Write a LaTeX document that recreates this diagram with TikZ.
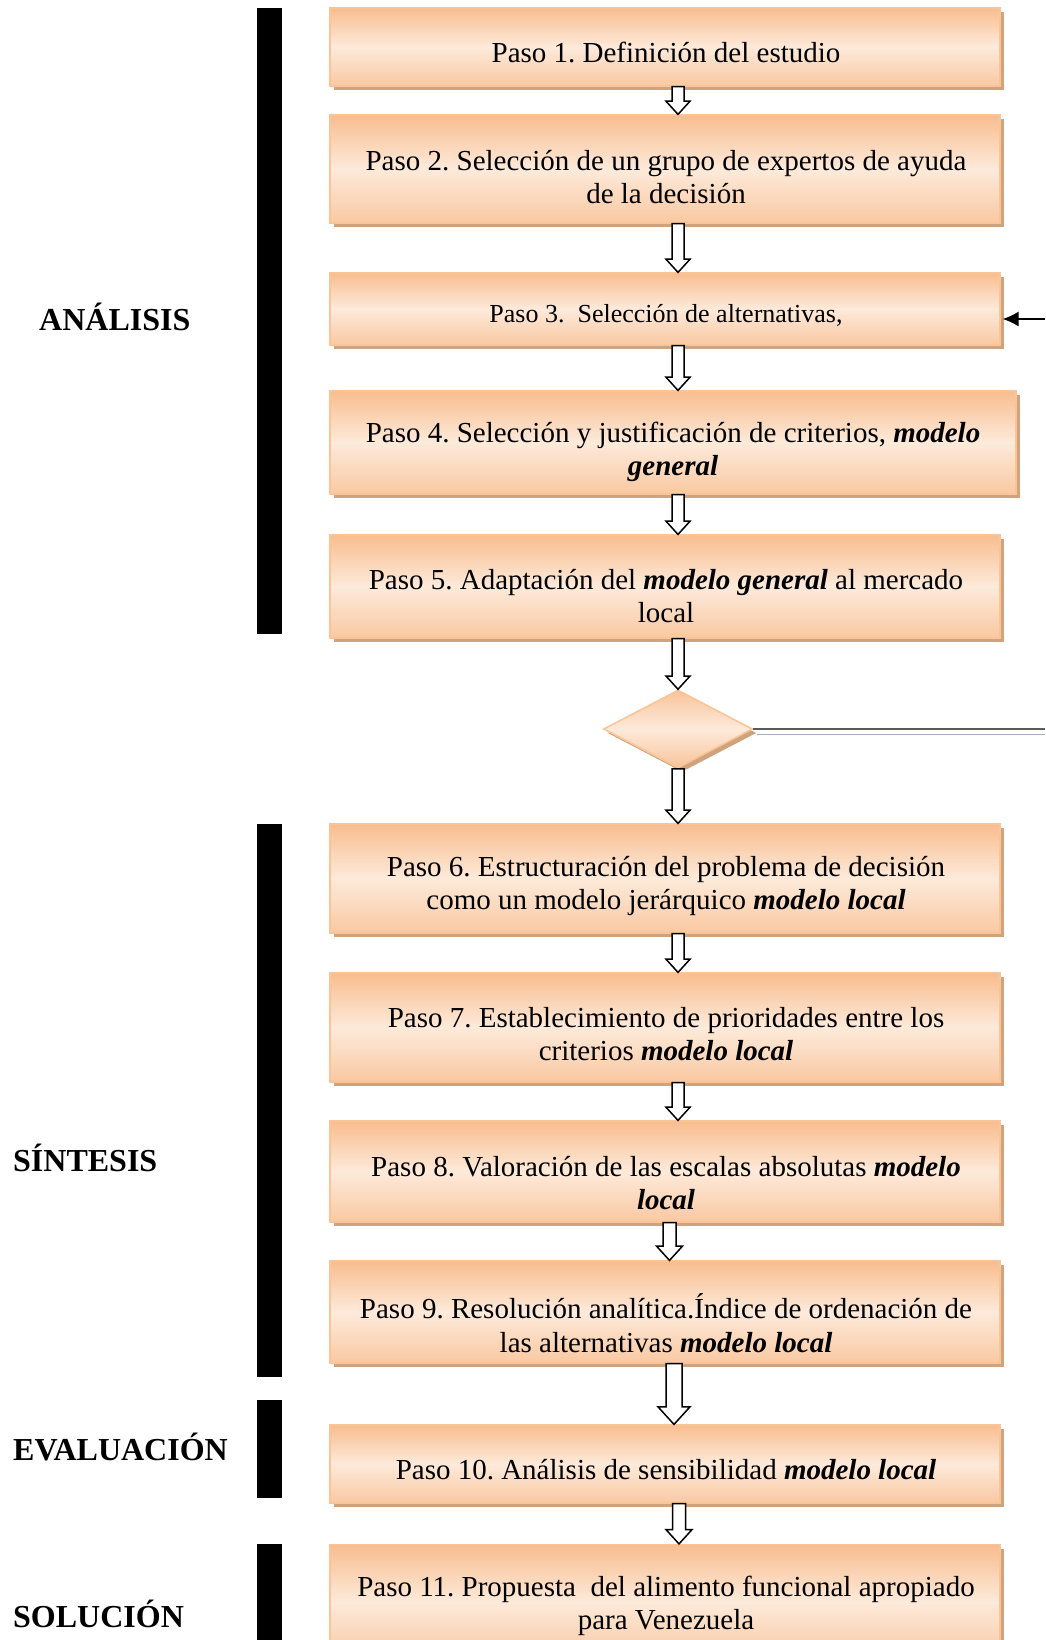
\documentclass[tikz,border=0pt]{standalone}
\usepackage{fontspec}
\setmainfont{Liberation Serif}
\frenchspacing
\usetikzlibrary{shapes.geometric,shadows,arrows.meta,calc}

% flecha hueca: [semiancho del cuerpo]{desde}{hasta}{x}
\newcommand{\flecha}[4][6]{%
  \draw[bloque] let \p1=(#2.south), \p2=(#3.north) in
    (#4pt-#1pt,\y1) -- (#4pt-#1pt,\y2+2.2*#1pt) -- (#4pt-2*#1pt,\y2+2.2*#1pt) -- (#4pt,\y2)
    -- (#4pt+2*#1pt,\y2+2.2*#1pt) -- (#4pt+#1pt,\y2+2.2*#1pt) -- (#4pt+#1pt,\y1) -- cycle;}

\begin{document}
\begin{tikzpicture}[x=1pt,y=-1pt,
  paso/.style={draw=borde, line width=1.2pt, top color=naranja, bottom color=naranja!75!crema, middle color=crema,
    general shadow={fill=sombra, shadow xshift=4pt, shadow yshift=-4pt}, minimum width=670pt, inner sep=0pt},
  rombo/.style={diamond, draw=borde, line width=1.5pt, top color=naranja!85!crema, bottom color=naranja!85!crema, middle color=crema,
    general shadow={fill=sombra, shadow xshift=4pt, shadow yshift=-4pt}, minimum width=149pt, minimum height=78pt, inner sep=0pt},
  texto/.style={font=\fontsize{29pt}{33.5pt}\selectfont, align=center, inner sep=0pt},
  etapa/.style={font=\fontsize{32pt}{36pt}\selectfont\bfseries, anchor=west, inner sep=0pt},
  bloque/.style={draw=black, fill=white, line width=1.5pt, line join=miter}]
\definecolor{naranja}{RGB}{248,189,143}
\definecolor{crema}{RGB}{253,234,218}
\definecolor{borde}{RGB}{249,196,150}
\definecolor{sombra}{RGB}{207,163,125}
\definecolor{gris}{RGB}{90,90,90}
\definecolor{azulgris}{RGB}{160,178,196}
\useasboundingbox (0,0) rectangle (1045,1640);

% barras de etapa
\fill[black] (257,8) rectangle (282,634);
\fill[black] (257,824) rectangle (282,1377);
\fill[black] (257,1400) rectangle (282,1498);
\fill[black] (257,1544) rectangle (282,1645);

\node[etapa] (analisis) at (39,317) {ANÁLISIS};
\node[etapa] (sintesis) at (13,1158) {SÍNTESIS};
\node[etapa] (evaluacion) at (13,1447) {EVALUACIÓN};
\node[etapa] (solucion) at (13,1614) {SOLUCIÓN};

% pasos
\node[paso, minimum height=78pt] (p1) at (665,47) {};
\node[texto] (t1) at (666,52) {Paso 1. Definición del estudio};
\node[paso, minimum height=108pt] (p2) at (665,169) {};
\node[texto] (t2) at (666,177) {Paso 2. Selección de un grupo de expertos de ayuda\\de la decisión};
\node[paso, minimum height=72pt] (p3) at (665,309) {};
\node[texto, font=\fontsize{26pt}{30pt}\selectfont] (t3) at (666,315) {Paso 3.\ \ Selección de alternativas,};
\node[paso, minimum width=686pt, minimum height=103pt] (p4) at (673,442.5) {};
\node[texto] (t4) at (673,452) {Paso 4. Selección y justificación de criterios, \textbf{\textit{modelo}}\\\textbf{\textit{general}}};
\node[paso, minimum height=103pt] (p5) at (665,586.5) {};
\node[texto] (t5) at (666,596) {Paso 5. Adaptación del \textbf{\textit{modelo general}} al mercado\\local};

\node[rombo] (d) at (678,729) {};

\node[paso, minimum height=109pt] (p6) at (665,878.5) {};
\node[texto] (t6) at (666,886) {Paso 6. Estructuración del problema de decisión\\como un modelo jerárquico \textbf{\textit{modelo local}}};
\node[paso, minimum height=109pt] (p7) at (665,1027.5) {};
\node[texto] (t7) at (666,1034) {Paso 7. Establecimiento de prioridades entre los\\criterios \textbf{\textit{modelo local}}};
\node[paso, minimum height=101pt] (p8) at (665,1171.5) {};
\node[texto] (t8) at (666,1183) {Paso 8. Valoración de las escalas absolutas \textbf{\textit{modelo}}\\\textbf{\textit{local}}};
\node[paso, minimum height=102pt] (p9) at (665,1312) {};
\node[texto] (t9) at (666,1323) {Paso 9. Resolución analítica.Índice de ordenación de\\las alternativas \textbf{\textit{modelo local}}};
\node[paso, minimum height=78pt] (p10) at (665,1464) {};
\node[texto] (t10) at (666,1470) {Paso 10. Análisis de sensibilidad \textbf{\textit{modelo local}}};
\node[paso, minimum height=115pt] (p11) at (665,1602) {};
\node[texto] (t11) at (666,1606) {Paso 11. Propuesta\ \ del alimento funcional apropiado\\para Venezuela};

% conectores
\flecha{p1}{p2}{678}
\flecha{p2}{p3}{678}
\flecha{p3}{p4}{678}
\flecha{p4}{p5}{678}
\flecha{p5}{d}{678}
\flecha{d}{p6}{678}
\flecha{p6}{p7}{678}
\flecha{p7}{p8}{678}
\flecha[6.5]{p8}{p9}{669.5}
\flecha[8]{p9}{p10}{674}
\flecha[6.5]{p10}{p11}{679}

\coordinate (entrada) at (1045,319);
\draw[line width=1.5pt, -{Latex[length=16pt,width=15pt]}] (entrada) -- ([xshift=2pt]entrada -| p3.east);
\coordinate (salida) at (1045,729);
\draw[line width=1pt, azulgris] ([shift={(4pt,-5pt)}]d.east) -- ([yshift=-5pt]salida);
\draw[line width=1.5pt, gris] (d.east) -- (salida);
\end{tikzpicture}
\end{document}
